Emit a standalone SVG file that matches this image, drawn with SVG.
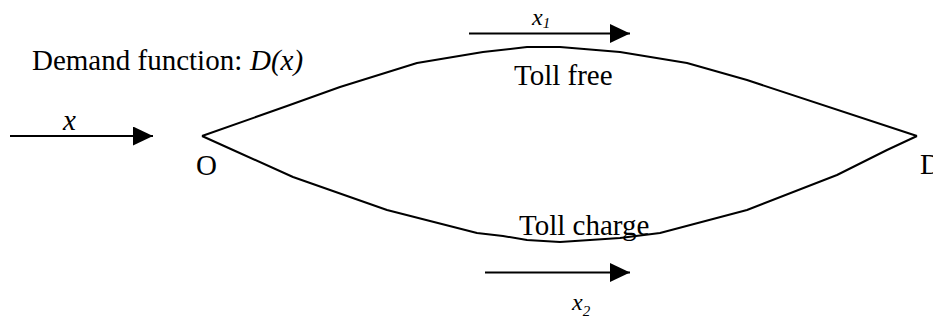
<svg xmlns="http://www.w3.org/2000/svg" width="933" height="321" viewBox="0 0 933 321">
<style>
text{font-family:"Liberation Serif","Times New Roman",serif;fill:#000}
.t{font-size:29px}
.i{font-style:italic}
.route{fill:none;stroke:#000;stroke-width:2;stroke-linejoin:round}
.flow{stroke:#000;stroke-width:2;marker-end:url(#ah)}
</style>
<defs>
<marker id="ah" markerUnits="userSpaceOnUse" markerWidth="20" markerHeight="20" refX="20" refY="9.5" orient="auto">
<path d="M0,0 L20,9.5 L0,19 Z" fill="#000"/>
</marker>
</defs>
<rect width="933" height="321" fill="#fff"/>
<g id="connectors">
<polyline id="route-free" class="route" points="202,136 287,106 340,87 417,63 483,52 527,47 560,47 620,52 687,63 747,80 917,136"/>
<polyline id="route-charge" class="route" points="202,136 233,150 293,177 387,210 477,233 503,236 527,240 560,242 620,238 660,233 747,210 837,175 887,150 917,136"/>
<line id="flow-x" class="flow" x1="10" y1="136" x2="153" y2="136"/>
<line id="flow-x1" class="flow" x1="469" y1="33.5" x2="630" y2="33.5"/>
<line id="flow-x2" class="flow" x1="485" y1="272.5" x2="630" y2="272.5"/>
</g>
<g id="demand-label"><text class="t" x="32" y="70">Demand function: <tspan class="i" x="250">D(x)</tspan></text></g>
<g id="x-label"><text class="t i" x="63" y="130">x</text></g>
<g id="node-O"><text class="t" x="196" y="175">O</text></g>
<g id="node-D"><text class="t" x="920" y="174">D</text></g>
<g id="toll-free"><text class="t" x="514" y="85">Toll free</text></g>
<g id="x1-label"><text class="i" font-size="24" x="532" y="25">x<tspan font-size="15" dy="3">1</tspan></text></g>
<g id="toll-charge"><text class="t" x="519" y="235">Toll charge</text></g>
<g id="x2-label"><text class="i" font-size="24" x="572" y="310">x<tspan font-size="15" dy="6">2</tspan></text></g>
</svg>
